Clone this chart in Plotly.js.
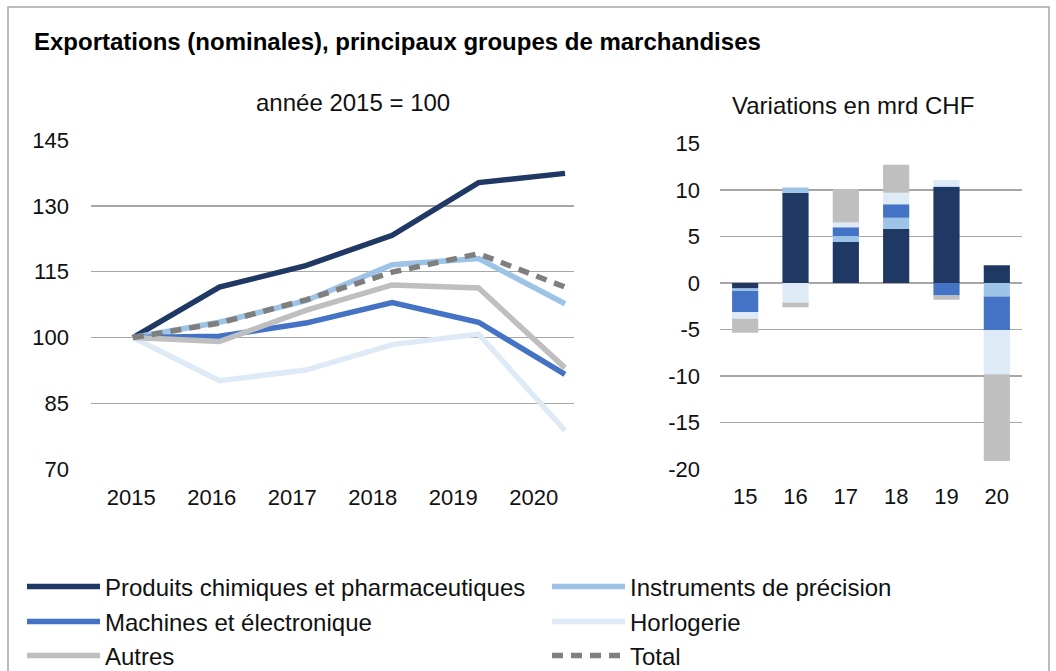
<!DOCTYPE html>
<html>
<head>
<meta charset="utf-8">
<script src="https://cdn.plot.ly/plotly-3.0.1.min.js"></script>
<style>
  html, body { margin: 0; padding: 0; background: #fff; }
  #chart { width: 1056px; height: 671px; }
</style>
</head>
<body>
<div id="chart"></div>
<script>
// index values, 2015 = 100
const years = ['2015', '2016', '2017', '2018', '2019', '2020'];
const chimie = [100, 111.5, 116.4, 123.3, 135.3, 137.4];
const instruments = [100, 103.5, 108.4, 116.6, 118.0, 107.7];
const machines = [100, 100.3, 103.3, 108.0, 103.5, 91.6];
const horlogerie = [100, 90.2, 92.6, 98.4, 100.8, 78.8];
const autres = [100, 99.1, 106.2, 112.0, 111.3, 93.1];
const total = [100, 103.3, 108.6, 114.9, 119.1, 111.5];
const indexTicks = [70, 85, 100, 115, 130, 145];

// yearly changes, bn CHF
const barYears = ['15', '16', '17', '18', '19', '20'];
const dChimie = [-0.6, 9.7, 4.4, 5.8, 10.3, 1.9];
const dInstruments = [-0.25, 0.55, 0.65, 1.2, 0.1, -1.45];
const dMachines = [-2.3, 0, 0.95, 1.45, -1.35, -3.6];
const dHorlogerie = [-0.7, -2.1, 0.5, 1.25, 0.65, -4.75];
const dAutres = [-1.5, -0.5, 3.6, 3.0, -0.45, -9.3];
const changeTicks = [-20, -15, -10, -5, 0, 5, 10, 15];

const names = ['Produits chimiques et pharmaceutiques', 'Instruments de précision',
  'Machines et électronique', 'Horlogerie', 'Autres', 'Total'];
const colors = ['#1F3864', '#9DC3E6', '#4472C4', '#DEEBF7', '#BFBFBF', '#7F7F7F'];

const W = 1056, H = 671;
const px = x => x / W;
const py = y => 1 - y / H;

const idx = years.map((_, i) => i);
const lineSeries = [chimie, instruments, machines, horlogerie, autres, total];

let traces = lineSeries.map((vals, i) => ({
  x: idx,
  y: vals,
  name: names[i],
  type: 'scatter',
  mode: 'lines',
  xaxis: 'x',
  yaxis: 'y',
  legend: i == 0 ? 'legend' : 'legend' + (i + 1),
  line: { color: colors[i], width: 5.5, dash: i == 5 ? '11px,8px' : 'solid' },
  hoverinfo: 'skip'
}));

// empty trace so the year-label axis gets a subplot of its own
traces.push({
  x: idx, y: [], type: 'scatter', mode: 'lines',
  xaxis: 'x3', yaxis: 'y', showlegend: false, hoverinfo: 'skip'
});

const barSeries = [dChimie, dInstruments, dMachines, dHorlogerie, dAutres];
barSeries.forEach((vals, i) => {
  traces.push({
    x: barYears,
    y: vals,
    name: names[i],
    type: 'bar',
    xaxis: 'x2',
    yaxis: 'y2',
    showlegend: false,
    marker: { color: colors[i], line: { width: 0 } },
    hoverinfo: 'skip'
  });
});

const grid = '#A6A6A6';
const tickFont = { size: 22, color: '#111' };

function legendAt(x, y) {
  return {
    orientation: 'h',
    x: px(x), xanchor: 'left',
    y: py(y), yanchor: 'middle',
    itemwidth: 73,
    font: { size: 24, color: '#111' },
    bgcolor: 'rgba(0,0,0,0)',
    borderwidth: 0
  };
}

const lineYpad = 0.2;  // keeps the 70 and 145 grid lines from being clipped
const unitPx = (469.3 - 140) / 75;

const layout = {
  width: W,
  height: H,
  margin: { l: 0, r: 0, t: 0, b: 0, autoexpand: false },
  paper_bgcolor: '#fff',
  plot_bgcolor: 'rgba(0,0,0,0)',
  font: { family: '"Liberation Sans", Arial, sans-serif', color: '#111' },
  barmode: 'relative',
  bargap: 0.48,
  // the points sit a little wider apart than the year labels in the original
  xaxis: {
    domain: [px(91), px(574)],
    range: [-0.486, 5.104],
    anchor: 'y',
    showgrid: false, zeroline: false, showline: false,
    showticklabels: false, ticks: '',
    fixedrange: true
  },
  xaxis3: {
    overlaying: 'x',
    anchor: 'y',
    range: [-0.5, 5.5],
    tickvals: idx,
    ticktext: years,
    showgrid: false, zeroline: false, showline: false,
    ticks: '', ticklabelstandoff: 12,
    tickfont: tickFont,
    fixedrange: true
  },
  yaxis: {
    anchor: 'x',
    domain: [1 - (469.3 + lineYpad * unitPx) / H, 1 - (140 - lineYpad * unitPx) / H],
    range: [70 - lineYpad, 145 + lineYpad],
    tickvals: indexTicks,
    ticktext: indexTicks.map(String),
    gridcolor: grid, gridwidth: 1.5,
    zeroline: false, showline: false,
    ticks: '', ticklabelstandoff: 21,
    tickfont: tickFont,
    fixedrange: true
  },
  xaxis2: {
    domain: [px(720), px(1022)],
    type: 'category',
    range: [-0.5, 5.5],
    showgrid: false, zeroline: false, showline: false,
    ticks: '', ticklabelstandoff: 12,
    tickfont: tickFont,
    anchor: 'y2',
    fixedrange: true
  },
  yaxis2: {
    domain: [1 - 469.3 / H, 1 - 143.3 / H],
    range: [-20, 15],
    tickvals: changeTicks,
    ticktext: changeTicks.map(String),  // plain hyphen like the original
    gridcolor: grid, gridwidth: 1.5,
    zeroline: false, showline: false,
    ticks: '', ticklabelstandoff: 19,
    tickfont: tickFont,
    anchor: 'x2',
    fixedrange: true
  },
  legend: legendAt(22, 587),
  legend2: legendAt(547, 587),
  legend3: legendAt(22, 622),
  legend4: legendAt(547, 622),
  legend5: legendAt(22, 656),
  legend6: legendAt(547, 656),
  annotations: [
    {
      text: '<b>Exportations (nominales), principaux groupes de marchandises</b>',
      xref: 'paper', yref: 'paper', x: px(32), y: py(41),
      xanchor: 'left', yanchor: 'middle', showarrow: false,
      font: { size: 24, color: '#000' }
    },
    {
      text: 'année 2015 = 100',
      xref: 'paper', yref: 'paper', x: px(353), y: py(102.5),
      xanchor: 'center', yanchor: 'middle', showarrow: false,
      font: { size: 24, color: '#111' }
    },
    {
      text: 'Variations en mrd CHF',
      xref: 'paper', yref: 'paper', x: px(853), y: py(105.9),
      xanchor: 'center', yanchor: 'middle', showarrow: false,
      font: { size: 24, color: '#111' }
    }
  ],
  shapes: [
    {
      type: 'rect', xref: 'paper', yref: 'paper',
      x0: px(8), x1: px(1049), y0: -0.05, y1: py(7),
      line: { color: grid, width: 1.5 }
    }
  ]
};

Plotly.newPlot('chart', traces, layout, { displayModeBar: false, staticPlot: true });
</script>
</body>
</html>
